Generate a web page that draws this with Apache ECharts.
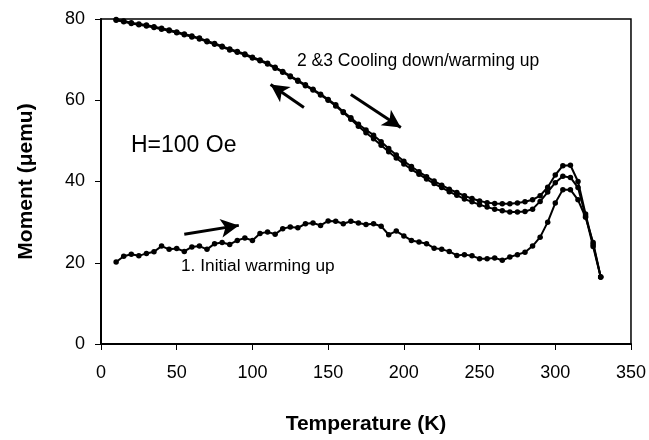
<!DOCTYPE html>
<html>
<head>
	<meta charset="utf-8">
	<script src="https://cdn.jsdelivr.net/npm/echarts@6/dist/echarts.min.js"></script>
	<title>moment vs temperature</title>
	<style>
		html, body { margin: 0; padding: 0; background: #fff; }
	</style>
</head>
<body>
	<div id="main" style="width:649px;height:440px"></div>
	<script type="text/javascript">
		// temperature points (K)
		var temps = [10,15,20,25,30,35,40,45,50,55,60,65,70,75,80,85,90,95,100,105,110,115,120,125,130,135,140,145,150,155,160,165,170,175,180,185,190,195,200,205,210,215,220,225,230,235,240,245,250,255,260,265,270,275,280,285,290,295,300,305,310,315,320,325,330];

		// 1. initial warming up
		var warm1 = [20.2,21.6,22.1,21.7,22.3,22.7,24.1,23.3,23.5,22.8,23.9,24.1,23.3,24.7,25.0,24.5,25.5,26.1,25.5,27.2,27.6,27.0,28.4,28.8,28.6,29.6,29.8,29.2,30.3,30.2,29.6,30.2,29.8,29.4,29.6,29.0,26.9,27.8,26.6,25.5,25.1,24.7,23.6,23.3,22.8,21.8,22.0,21.7,21.0,21.0,21.2,20.6,21.4,22.0,22.6,24.1,26.3,30.0,34.7,38.0,38.0,35.5,31.2,25.0,16.5];

		// 2. cooling down
		var cool2 = [79.9,79.5,79.1,78.8,78.5,78.1,77.7,77.3,76.8,76.3,75.8,75.3,74.6,74.0,73.3,72.6,72.0,71.4,70.6,69.9,69.1,68.1,67.1,66.0,64.9,63.8,62.7,61.5,60.2,58.9,57.2,55.7,54.1,52.7,51.4,49.8,48.1,46.5,45.0,43.7,42.4,41.2,40.1,39.1,38.1,37.3,36.5,35.8,35.2,34.8,34.6,34.5,34.5,34.7,35.0,35.5,36.5,38.6,41.6,43.9,44.0,40.0,32.0,24.5,16.5];

		// 3. warming up
		var warm3 = [79.7,79.3,78.9,78.6,78.3,77.9,77.5,77.1,76.6,76.1,75.6,75.1,74.4,73.8,73.1,72.4,71.8,71.2,70.4,69.7,68.9,67.9,66.9,65.8,64.7,63.6,62.5,61.3,60.0,58.6,57.0,55.3,53.6,52.0,50.5,48.9,47.3,45.8,44.3,43.0,41.8,40.6,39.5,38.5,37.5,36.6,35.7,35.0,34.3,33.7,33.2,32.8,32.5,32.5,32.6,33.2,35.1,37.4,39.7,41.3,41.0,38.5,31.5,24.0,16.5];

		// arrows: [fromT, fromM, toT, toM]
		var arrows = [
			[134, 58.2, 112, 63.9],
			[165, 61.4, 198, 53.3],
			[55, 27.0, 91, 29.2]
		];

		var yTicks = [0, 20, 40, 60, 80];
		var xTicks = [0, 50, 100, 150, 200, 250, 300, 350];

		function pairs(vals) {
			var out = [];
			for (var i = 0; i < temps.length; i++) out.push([temps[i], vals[i]]);
			return out;
		}

		var font = 'Liberation Sans, Arial, sans-serif';

		var arrowData = arrows.map(function (a) {
			return [{ coord: [a[0], a[1]] }, { coord: [a[2], a[3]] }];
		});

		function lineSeries(name, vals, extra) {
			var s = {
				name: name,
				type: 'line',
				data: pairs(vals),
				symbol: 'circle',
				symbolSize: 5.5,
				showSymbol: true,
				lineStyle: { color: '#000', width: 2 },
				itemStyle: { color: '#000' },
				z: 3
			};
			for (var k in extra) s[k] = extra[k];
			return s;
		}

		var myChart = echarts.init(document.getElementById('main'), null, { renderer: 'canvas' });
		var option = {
			animation: false,
			backgroundColor: '#fff',
			textStyle: { fontFamily: font, color: '#000' },
			grid: {
				left: 101,
				right: 18,
				top: 19,
				bottom: 94,
				show: true,
				borderColor: '#000',
				borderWidth: 1.5,
				containLabel: false
			},
			xAxis: {
				type: 'value',
				min: 0,
				max: 350,
				interval: 50,
				name: 'Temperature (K)',
				nameLocation: 'middle',
				nameGap: 70,
				nameTextStyle: { fontSize: 21, fontWeight: 'bold', color: '#000', fontFamily: font },
				axisLine: { show: true, onZero: false, lineStyle: { color: '#000', width: 2 } },
				axisTick: { show: true, inside: false, length: 6, lineStyle: { color: '#000' } },
				axisLabel: {
					fontSize: 18, color: '#000', margin: 20, fontFamily: font,
					formatter: function (v) { return xTicks.indexOf(v) >= 0 ? String(v) : ''; }
				},
				splitLine: { show: false }
			},
			yAxis: {
				type: 'value',
				min: 0,
				max: 80,
				interval: 20,
				name: 'Moment (\u03bcemu)',
				nameLocation: 'middle',
				nameGap: 64,
				nameRotate: 90,
				nameTextStyle: { fontSize: 21, fontWeight: 'bold', color: '#000', fontFamily: font },
				axisLine: { show: true, onZero: false, lineStyle: { color: '#000', width: 2 } },
				axisTick: { show: true, inside: false, length: 6, lineStyle: { color: '#000' } },
				axisLabel: {
					fontSize: 18, color: '#000', margin: 16, fontFamily: font,
					formatter: function (v) { return yTicks.indexOf(v) >= 0 ? String(v) : ''; }
				},
				splitLine: { show: false }
			},
			series: [
				lineSeries('1. Initial warming up', warm1, {
					markLine: {
						silent: true,
						symbol: ['none', 'arrow'],
						symbolSize: [14, 18],
						label: { show: false },
						lineStyle: { color: '#000', width: 3, type: 'solid' },
						emphasis: { disabled: true },
						data: arrowData
					}
				}),
				lineSeries('2 Cooling down', cool2, {}),
				lineSeries('3 Warming up', warm3, {})
			],
			graphic: [
				{
					type: 'text', left: 297, top: 52,
					style: { text: '2 &3 Cooling down/warming up', font: '17.5px ' + font, fill: '#000' }
				},
				{
					type: 'text', left: 131, top: 134,
					style: { text: 'H=100 Oe', font: '23px ' + font, fill: '#000' }
				},
				{
					type: 'text', left: 181, top: 258,
					style: { text: '1. Initial warming up', font: '17.3px ' + font, fill: '#000' }
				}
			]
		};
		myChart.setOption(option);
	</script>
</body>
</html>
